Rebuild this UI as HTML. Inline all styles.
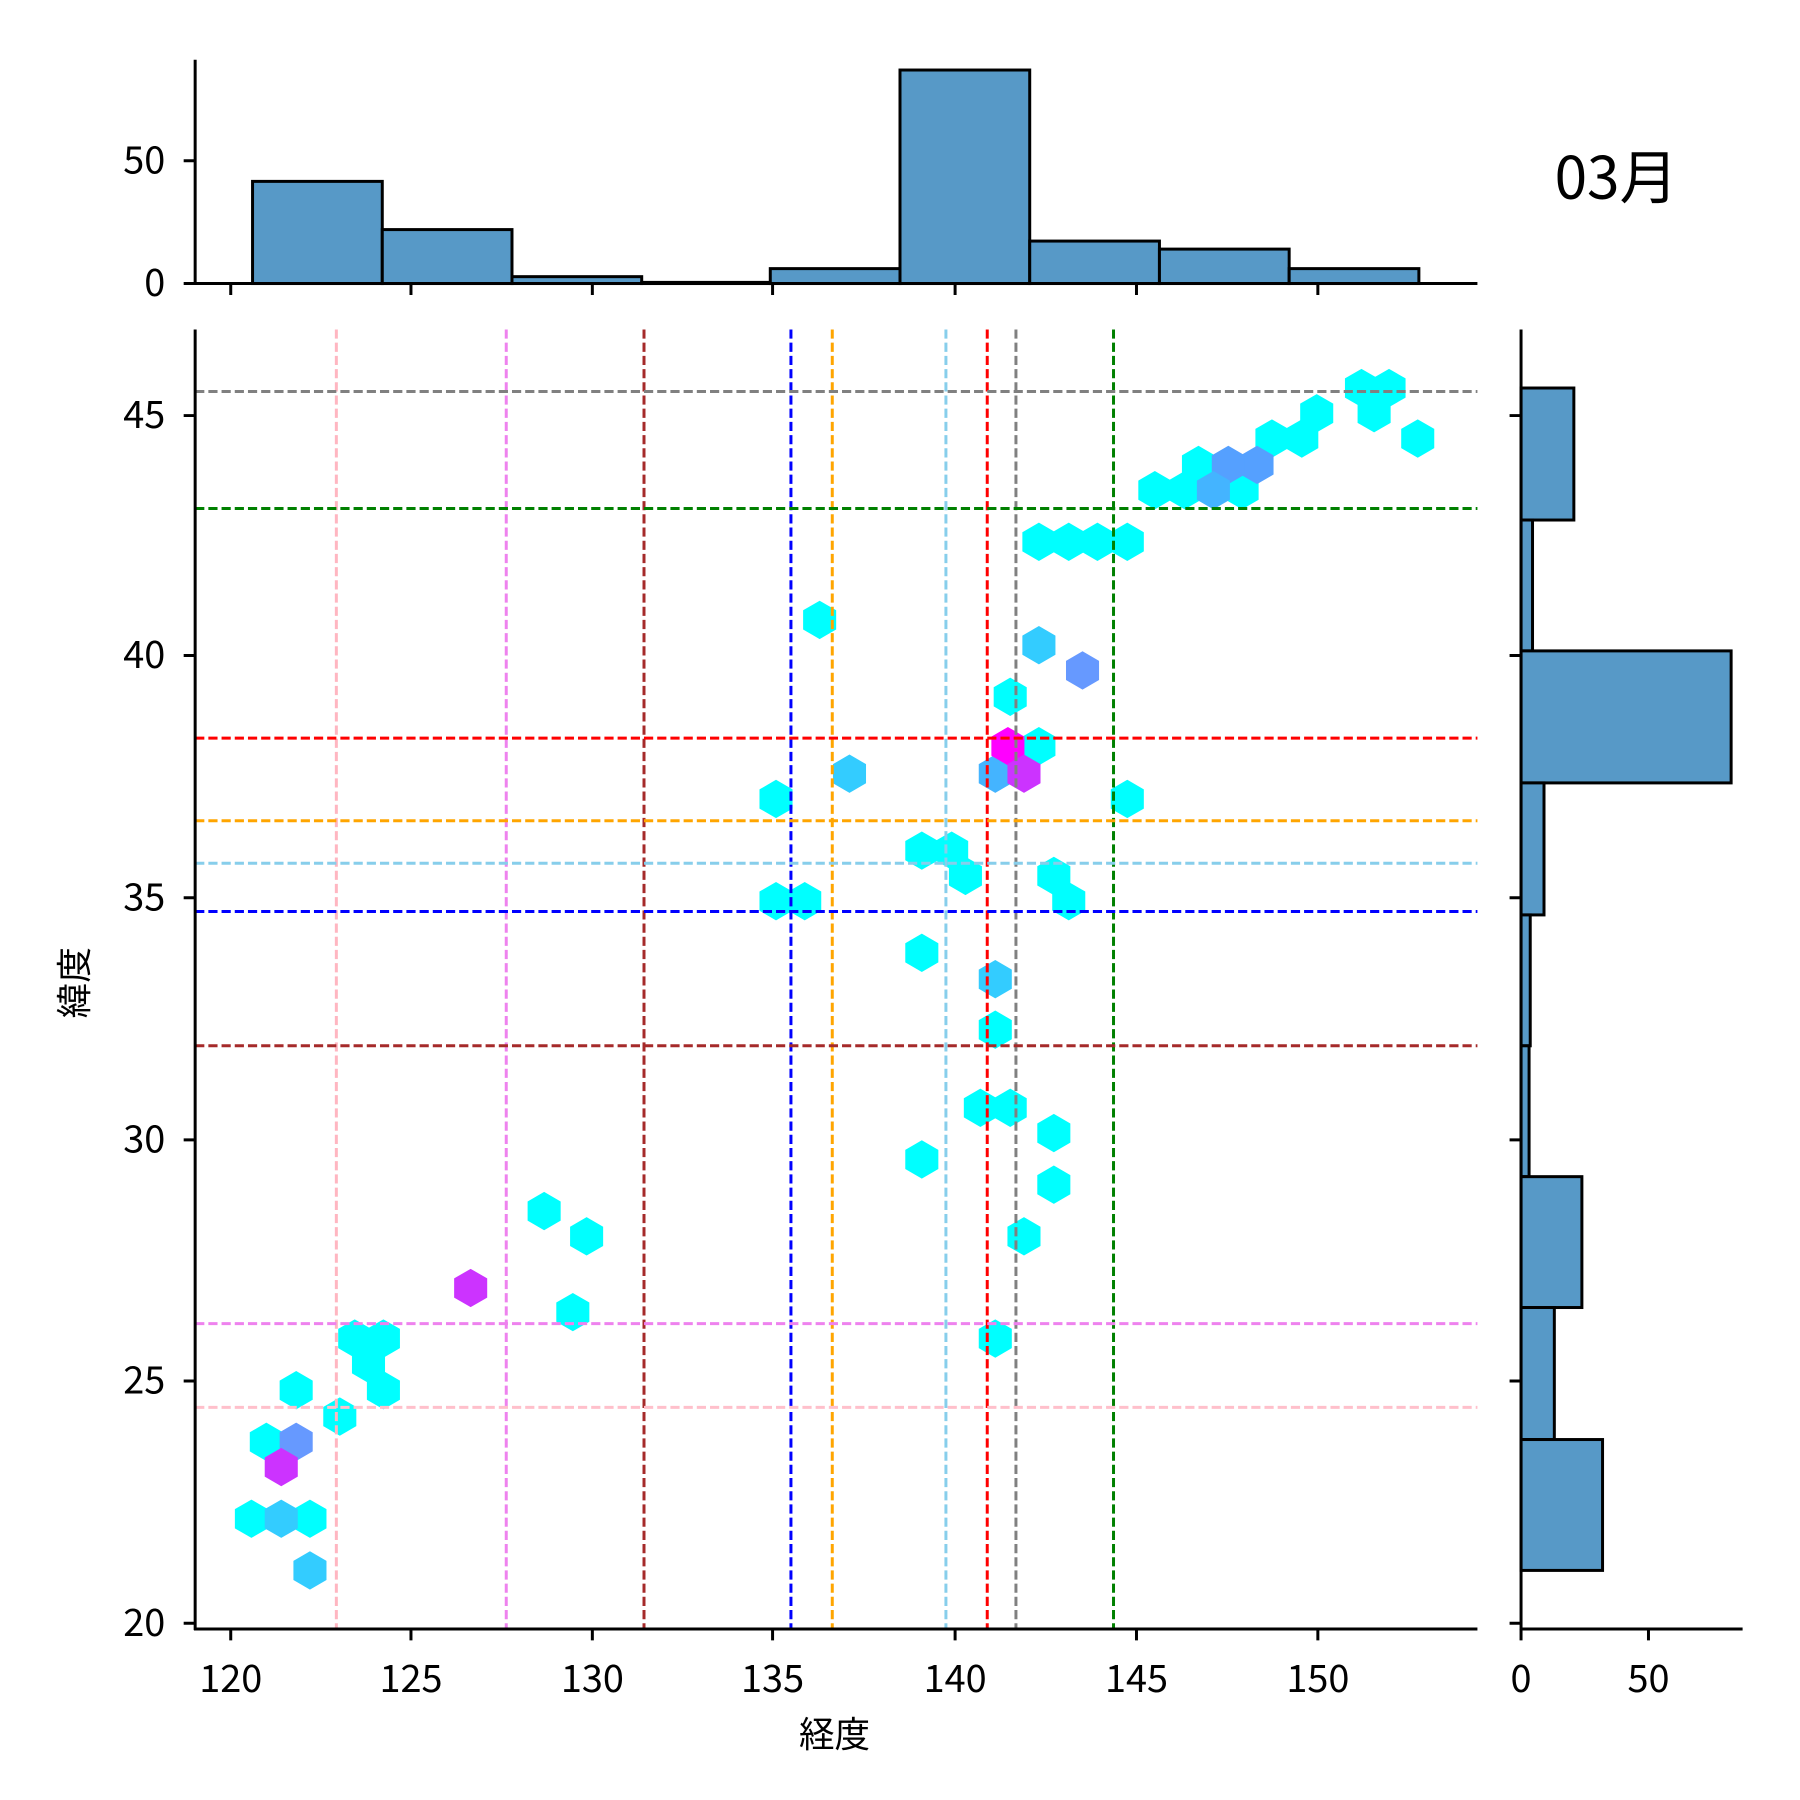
<!DOCTYPE html>
<html><head><meta charset="utf-8"><style>html,body{margin:0;padding:0;background:#fff}svg{display:block}</style></head>
<body>
<svg width="1800" height="1800" viewBox="0 0 1568 1568" xmlns="http://www.w3.org/2000/svg" font-family="Noto Sans CJK JP, Liberation Sans, sans-serif">
<defs><polygon id="h" points="0,-16.7 14.4,-8.35 14.4,8.35 0,16.7 -14.4,8.35 -14.4,-8.35"/></defs>
<rect width="1568" height="1568" fill="#fff"/>
<g fill="#00ffff">
<use href="#h" x="1186" y="338"/><use href="#h" x="1210" y="338"/><use href="#h" x="1197" y="360"/><use href="#h" x="1147" y="360"/><use href="#h" x="1134" y="382"/><use href="#h" x="1108" y="382"/><use href="#h" x="1235" y="382"/>
<use href="#h" x="1044" y="405"/><use href="#h" x="1006" y="427"/><use href="#h" x="1032" y="427"/><use href="#h" x="1082" y="427"/>
<use href="#h" x="905" y="472"/><use href="#h" x="931" y="472"/><use href="#h" x="956" y="472"/><use href="#h" x="982" y="472"/>
<use href="#h" x="714" y="540"/><use href="#h" x="880" y="607"/><use href="#h" x="905" y="650"/>
<use href="#h" x="676" y="696"/><use href="#h" x="982" y="696"/><use href="#h" x="803" y="741"/><use href="#h" x="829" y="741"/><use href="#h" x="841" y="763"/><use href="#h" x="918" y="763"/><use href="#h" x="931" y="785"/><use href="#h" x="676" y="785"/><use href="#h" x="701" y="785"/>
<use href="#h" x="803" y="830"/><use href="#h" x="867" y="897"/><use href="#h" x="854" y="965"/><use href="#h" x="880" y="965"/><use href="#h" x="918" y="987"/><use href="#h" x="803" y="1010"/><use href="#h" x="918" y="1032"/>
<use href="#h" x="474" y="1055"/><use href="#h" x="511" y="1077"/><use href="#h" x="892" y="1077"/><use href="#h" x="499" y="1143"/><use href="#h" x="867" y="1166"/>
<use href="#h" x="309" y="1166"/><use href="#h" x="334" y="1166"/><use href="#h" x="321" y="1188"/><use href="#h" x="334" y="1211"/><use href="#h" x="258" y="1211"/><use href="#h" x="296" y="1234"/><use href="#h" x="232" y="1256"/>
<use href="#h" x="219" y="1323"/><use href="#h" x="270" y="1323"/>
</g>
<g fill="#55a0ff"><use href="#h" x="1095" y="405"/><use href="#h" x="1070" y="405"/></g>
<g fill="#44b4ff"><use href="#h" x="1057" y="427"/><use href="#h" x="867" y="674"/></g>
<g fill="#33ccff"><use href="#h" x="905" y="562"/><use href="#h" x="740" y="674"/><use href="#h" x="867" y="853"/><use href="#h" x="245" y="1323"/><use href="#h" x="270" y="1368"/></g>
<g fill="#6699ff"><use href="#h" x="943" y="584"/><use href="#h" x="258" y="1256"/></g>
<use href="#h" x="878" y="650" fill="#ff00ff"/>
<g fill="#cc33ff"><use href="#h" x="892" y="674"/><use href="#h" x="410" y="1122"/><use href="#h" x="245" y="1278"/></g>
<g stroke-width="2.6" stroke-dasharray="8,3.5" fill="none">
<line x1="293" y1="287" x2="293" y2="1419" stroke="#ffb6c1"/>
<line x1="441" y1="287" x2="441" y2="1419" stroke="#ee82ee"/>
<line x1="561" y1="287" x2="561" y2="1419" stroke="#a52a2a"/>
<line x1="689" y1="287" x2="689" y2="1419" stroke="#0000ff"/>
<line x1="725" y1="287" x2="725" y2="1419" stroke="#ffa500"/>
<line x1="824" y1="287" x2="824" y2="1419" stroke="#87ceeb"/>
<line x1="860" y1="287" x2="860" y2="1419" stroke="#ff0000"/>
<line x1="885" y1="287" x2="885" y2="1419" stroke="#808080"/>
<line x1="970" y1="287" x2="970" y2="1419" stroke="#008000"/>
<line x1="170" y1="341" x2="1287" y2="341" stroke="#808080"/>
<line x1="170" y1="443" x2="1287" y2="443" stroke="#008000"/>
<line x1="170" y1="643" x2="1287" y2="643" stroke="#ff0000"/>
<line x1="170" y1="715" x2="1287" y2="715" stroke="#ffa500"/>
<line x1="170" y1="752" x2="1287" y2="752" stroke="#87ceeb"/>
<line x1="170" y1="794" x2="1287" y2="794" stroke="#0000ff"/>
<line x1="170" y1="911" x2="1287" y2="911" stroke="#a52a2a"/>
<line x1="170" y1="1153" x2="1287" y2="1153" stroke="#ee82ee"/>
<line x1="170" y1="1226" x2="1287" y2="1226" stroke="#ffc0cb"/>
</g>
<g stroke="#000" stroke-width="2.6" fill="none">
<line x1="170" y1="287" x2="170" y2="1420"/><line x1="169" y1="1419" x2="1287" y2="1419"/>
<path d="M201 1419v10M358 1419v10M516 1419v10M673 1419v10M832 1419v10M990 1419v10M1148 1419v10"/>
<path d="M160 362h10M160 571h10M160 782h10M160 993h10M160 1203h10M160 1414h10"/>
</g>
<g font-size="33" text-anchor="middle" fill="#000">
<text x="201" y="1474">120</text><text x="358" y="1474">125</text><text x="516" y="1474">130</text><text x="673" y="1474">135</text><text x="832" y="1474">140</text><text x="990" y="1474">145</text><text x="1148" y="1474">150</text>
</g>
<g font-size="33" text-anchor="end" fill="#000">
<text x="144" y="373">45</text><text x="144" y="582">40</text><text x="144" y="793">35</text><text x="144" y="1004">30</text><text x="144" y="1214">25</text><text x="144" y="1425">20</text>
</g>
<text x="727" y="1522" font-size="31" text-anchor="middle">経度</text>
<text transform="translate(76,856) rotate(-90)" font-size="31" text-anchor="middle">緯度</text>
<g fill="#5799c7" stroke="#000" stroke-width="2.6">
<rect x="220" y="158" width="113" height="89"/><rect x="333" y="200" width="113" height="47"/><rect x="446" y="241" width="113" height="6"/><rect x="559" y="246" width="112" height="1"/><rect x="671" y="234" width="113" height="13"/><rect x="784" y="61" width="113" height="186"/><rect x="897" y="210" width="113" height="37"/><rect x="1010" y="217" width="113" height="30"/><rect x="1123" y="234" width="113" height="13"/>
</g>
<g stroke="#000" stroke-width="2.6" fill="none">
<line x1="170" y1="52" x2="170" y2="248"/><line x1="169" y1="247" x2="1287" y2="247"/>
<path d="M160 140h10M160 247h10"/>
<path d="M201 247v10M358 247v10M516 247v10M673 247v10M832 247v10M990 247v10M1148 247v10"/>
</g>
<g font-size="33" text-anchor="end"><text x="144" y="151">50</text><text x="144" y="258">0</text></g>
<text x="1408" y="173" font-size="51" text-anchor="middle">03月</text>
<g fill="#5799c7" stroke="#000" stroke-width="2.6">
<rect x="1325" y="338" width="46" height="115"/><rect x="1325" y="453" width="10" height="114"/><rect x="1325" y="567" width="183" height="115"/><rect x="1325" y="682" width="20" height="115"/><rect x="1325" y="797" width="8" height="114"/><rect x="1325" y="911" width="7" height="114"/><rect x="1325" y="1025" width="53" height="114"/><rect x="1325" y="1139" width="29" height="115"/><rect x="1325" y="1254" width="71" height="114"/>
</g>
<g stroke="#000" stroke-width="2.6" fill="none">
<line x1="1325" y1="287" x2="1325" y2="1420"/><line x1="1324" y1="1419" x2="1518" y2="1419"/>
<path d="M1325 1419v10M1436 1419v10"/>
<path d="M1315 362h10M1315 571h10M1315 782h10M1315 993h10M1315 1203h10M1315 1414h10"/>
</g>
<g font-size="33" text-anchor="middle"><text x="1325" y="1474">0</text><text x="1436" y="1474">50</text></g>
</svg>
</body></html>
